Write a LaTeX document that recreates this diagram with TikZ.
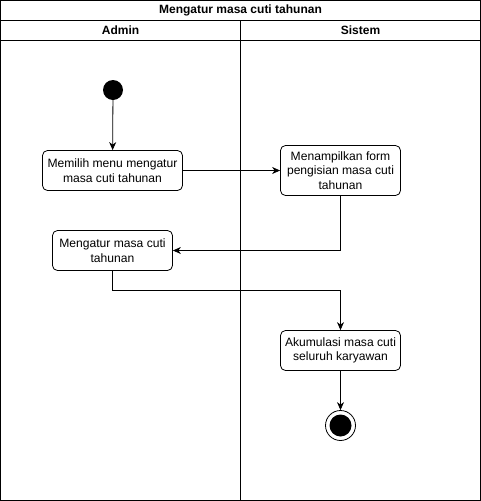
\documentclass[tikz,border=0pt]{standalone}
\usepackage{fontspec}
\setmainfont{Liberation Sans}
\usetikzlibrary{arrows.meta}
\begin{document}
\begin{tikzpicture}[x=1pt,y=-1pt,
  act/.style={draw,rounded corners=5pt,line width=0.8pt,align=center,inner sep=0pt,
     font=\fontsize{12.1}{14.5}\selectfont},
  flow/.style={draw,line width=0.8pt,-{Stealth[length=8pt,width=7pt,inset=2.5pt]}},
  lane/.style={draw,line width=0.8pt},
  hdr/.style={font=\bfseries\fontsize{12}{14}\selectfont}]
\useasboundingbox (0,0) rectangle (481,501);
\draw[lane] (0.5,0.5) rectangle (480.5,500.5);
\draw[lane] (0.5,20.5) -- (480.5,20.5);
\draw[lane] (0.5,40.5) -- (480.5,40.5);
\draw[lane] (240.5,20.5) -- (240.5,500.5);
\node[hdr] (title) at (240.5,10.5) {Mengatur masa cuti tahunan};
\node[hdr] (admin) at (120.5,30.5) {Admin};
\node[hdr] (sistem) at (360.5,30.5) {Sistem};
\node[circle,fill=black,minimum size=20pt,inner sep=0pt] (start) at (113,90) {};
\node[act,minimum width=140pt,minimum height=40pt] (a1) at (112.5,170.5) {Memilih menu mengatur\\masa cuti tahunan};
\node[act,minimum width=120pt,minimum height=50pt] (a2) at (340.5,170.5) {Menampilkan form\\pengisian masa cuti\\tahunan};
\node[act,minimum width=120pt,minimum height=40pt] (a3) at (112.5,250.5) {Mengatur masa cuti\\tahunan};
\node[act,minimum width=120pt,minimum height=40pt] (a4) at (340.5,350.5) {Akumulasi masa cuti\\seluruh karyawan};
\node[circle,draw,line width=0.8pt,minimum size=30pt,inner sep=0pt] (end) at (340.5,425.5) {};
\node[circle,fill=black,minimum size=22pt,inner sep=0pt] (endin) at (end) {};
\draw[flow] (start) -- (a1);
\draw[flow] (a1) -- (a2);
\draw[flow] (a2.south) |- (a3.east);
\coordinate (m) at (340.5,290.5);
\draw[flow] (a3.south) |- (m) -- (a4.north);
\draw[flow] (a4) -- (end);
\end{tikzpicture}
\end{document}
